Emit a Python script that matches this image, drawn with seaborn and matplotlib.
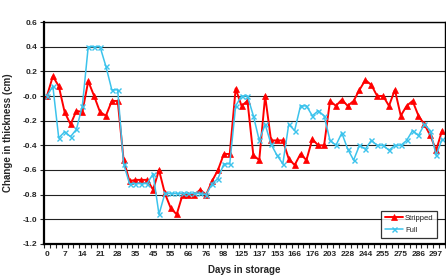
import numpy as np
import pandas as pd
import seaborn as sns
import matplotlib.pyplot as plt

# day labels shown on the category axis (every 3rd category)
day_labels = [0, 7, 14, 21, 28, 35, 45, 55, 66, 76, 98, 125, 137, 153, 166,
              176, 203, 228, 244, 255, 275, 286, 297]

# change in thickness (cm), one value per measurement
stripped = [0.00, 0.16, 0.08, -0.13, -0.23, -0.12, -0.13, 0.12, 0.00, -0.13,
            -0.16, -0.04, -0.04, -0.52, -0.69, -0.68, -0.68, -0.68, -0.76, -0.60,
            -0.79, -0.91, -0.96, -0.80, -0.80, -0.80, -0.76, -0.80, -0.69, -0.60,
            -0.47, -0.47, 0.06, -0.08, -0.04, -0.48, -0.52, 0.00, -0.36, -0.36,
            -0.36, -0.51, -0.56, -0.47, -0.52, -0.35, -0.40, -0.40, -0.04, -0.08,
            -0.03, -0.08, -0.04, 0.05, 0.13, 0.09, 0.00, 0.00, -0.08, 0.05,
            -0.16, -0.08, -0.04, -0.16, -0.23, -0.32, -0.44, -0.28]
full = [0.00, 0.08, -0.34, -0.29, -0.33, -0.27, -0.08, 0.40, 0.40, 0.40,
        0.24, 0.05, 0.05, -0.55, -0.71, -0.71, -0.71, -0.71, -0.63, -0.96,
        -0.79, -0.79, -0.79, -0.79, -0.79, -0.79, -0.79, -0.80, -0.71, -0.67,
        -0.55, -0.55, -0.08, 0.00, 0.00, -0.16, -0.36, -0.23, -0.39, -0.48,
        -0.55, -0.23, -0.28, -0.08, -0.08, -0.16, -0.12, -0.16, -0.36, -0.40,
        -0.30, -0.43, -0.52, -0.40, -0.43, -0.36, -0.40, -0.40, -0.44, -0.40,
        -0.40, -0.36, -0.28, -0.32, -0.23, -0.28, -0.48, -0.35]

df = pd.DataFrame({'idx': np.arange(len(stripped)),
                   'Stripped': stripped, 'Full': full})

sns.set_style('white')
plt.rcParams['font.family'] = ['Liberation Sans', 'DejaVu Sans']

fig = plt.figure(figsize=(4.46, 2.8), dpi=100)
ax = fig.add_axes([44 / 446, 1 - 244 / 280, 401 / 446, 222 / 280])

sns.lineplot(data=df, x='idx', y='Stripped', ax=ax, color='#FF0000', lw=1.4,
             marker='^', markersize=4, markeredgewidth=0.5, markeredgecolor='#FF0000',
             label='Stripped')
sns.lineplot(data=df, x='idx', y='Full', ax=ax, color='#3CC3EC', lw=1.1,
             marker='x', markersize=3.6, markeredgewidth=1.0, markeredgecolor='#3CC3EC',
             label='Full')

ax.set_xlim(-0.5, len(stripped) - 0.5)
ax.set_ylim(-1.2, 0.6)
ax.set_yticks(np.arange(-1.2, 0.61, 0.2))
ax.set_yticklabels([f'{v:.1f}' for v in np.arange(-1.2, 0.61, 0.2)])
ax.yaxis.grid(True, color='#222222', lw=0.8)
ax.set_axisbelow(True)

ax.set_xticks(np.arange(0, 3 * len(day_labels), 3))
ax.set_xticklabels([str(d) for d in day_labels])
ax.set_xticks(np.arange(-0.5, len(stripped), 1), minor=True)
ax.tick_params(axis='x', which='major', length=0, pad=5, labelsize=6)
ax.tick_params(axis='x', which='minor', length=3, width=0.8, direction='out', bottom=True)
ax.tick_params(axis='y', length=3, width=0.8, direction='out', left=True, labelsize=6, pad=2)
for lab in ax.get_xticklabels() + ax.get_yticklabels():
    lab.set_fontweight('bold')

for side in ['top', 'right']:
    ax.spines[side].set_color('black')
    ax.spines[side].set_linewidth(1.0)
for side in ['left', 'bottom']:
    ax.spines[side].set_color('black')
    ax.spines[side].set_linewidth(1.6)

ax.set_xlabel('Days in storage', fontsize=7, fontweight='bold', labelpad=5)
ax.set_ylabel('Change in thickness (cm)', fontsize=7, fontweight='bold', labelpad=7)

leg = ax.legend(loc='lower right', bbox_to_anchor=(0.981, 0.028), borderaxespad=0,
                fontsize=5.5, frameon=True, fancybox=False, handlelength=2.3,
                borderpad=0.5, labelspacing=0.6, handletextpad=0.3)
leg.get_frame().set_edgecolor('black')
leg.get_frame().set_linewidth(0.9)

fig.savefig('out.png', dpi=100)
